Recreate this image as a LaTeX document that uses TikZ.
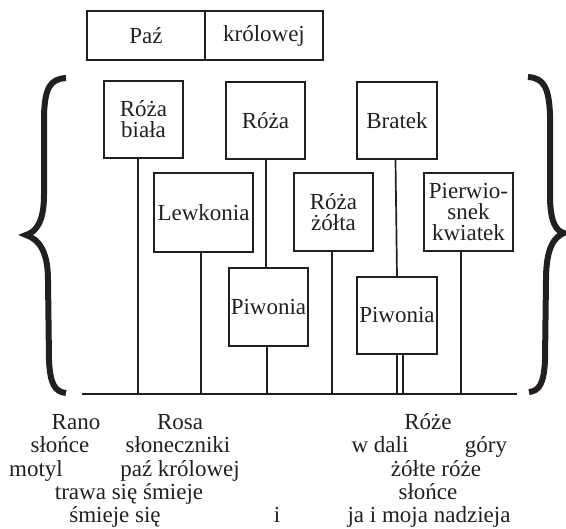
\documentclass[tikz,border=0pt]{standalone}
\usepackage{fontspec}
\setmainfont{Liberation Serif}
\definecolor{ink}{RGB}{35,31,32}
\begin{document}
\begin{tikzpicture}[x=1pt,y=-1pt,
  box/.style={draw=ink, line width=1.5pt, inner sep=0pt, align=center, text=ink, font=\fontsize{23}{21}\selectfont},
  conn/.style={draw=ink, line width=1.7pt},
  bracepath/.style={draw=ink, line width=6pt},
  lbl/.style={anchor=base, inner sep=0pt, text=ink, font=\fontsize{23}{23}\selectfont}]
\useasboundingbox (0,0) rectangle (566,529);
% top box
\node[box, minimum width=118pt, minimum height=49pt] (paz) at (146,35.5) {Paź};
\node[box, minimum width=118pt, minimum height=49pt] (krol) at (264,35.5) {królowej};
% flower boxes
\node[box, minimum width=79pt, minimum height=77pt] (rb) at (143.5,119.5) {Róża\\biała};
\node[box, minimum width=79pt, minimum height=77pt] (ro) at (265.5,120.5) {Róża};
\node[box, minimum width=80pt, minimum height=77pt] (bt) at (397,120.5) {Bratek};
\node[box, minimum width=99pt, minimum height=79pt] (lw) at (203.5,212.5) {Lewkonia};
\node[box, minimum width=79pt, minimum height=78pt] (rz) at (333.5,212) {Róża\\żółta};
\node[box, minimum width=89pt, minimum height=78pt, font=\fontsize{23}{21}\selectfont] (pk) at (468.5,212) {Pierwio-\\snek\\kwiatek};
\node[box, minimum width=79pt, minimum height=78pt] (p1) at (268.5,307) {Piwonia};
\node[box, minimum width=80pt, minimum height=77pt] (p2) at (397,315.5) {Piwonia};
% base line
\coordinate (bl) at (82,394);
\coordinate (bre) at (517,394);
\draw[conn] (bl) -- (bre);
% connectors
\path ([xshift=-5.5pt]rb.south) coordinate (c1);
\draw[conn] (c1) -- (c1 |- bl);
\path ([xshift=-2.5pt]lw.south) coordinate (c2);
\draw[conn] (c2) -- (c2 |- bl);
\draw[conn] ([xshift=0.5pt]ro.south) -- ([xshift=-2.5pt]p1.north);
\path ([xshift=-1.5pt]p1.south) coordinate (c3);
\draw[conn] (c3) -- (c3 |- bl);
\path ([xshift=-1.5pt]rz.south) coordinate (c4);
\draw[conn] (c4) -- (c4 |- bl);
\draw[conn] ([xshift=-1.5pt]bt.south) -- ([xshift=0pt]p2.north);
\path ([xshift=0pt]p2.south) coordinate (c5);
\draw[conn] (c5) -- (c5 |- bl);
\path ([xshift=6pt]p2.south) coordinate (c6);
\draw[conn] (c6) -- (c6 |- bl);
\path ([xshift=-7.5pt]pk.south) coordinate (c7);
\draw[conn] (c7) -- (c7 |- bl);
% braces
\draw[bracepath] (66,78) .. controls (50,79) and (45,88) .. (44,115) -- (44,195) .. controls (44,222) and (36,232) .. (26,235) .. controls (38,239) and (48,250) .. (48,280) -- (49,360) .. controls (50,384) and (55,392) .. (66,393);
\draw[bracepath] (528,77) .. controls (544,78) and (549,88) .. (550,115) -- (550,195) .. controls (550,222) and (556,231) .. (564,233) .. controls (554,237) and (546,248) .. (546,280) -- (545,360) .. controls (544,384) and (539,391) .. (529,392);
% poem text
\node[lbl] (t11) at (76,430) {Rano};
\node[lbl] (t12) at (180,430) {Rosa};
\node[lbl] (t13) at (428,430) {Róże};
\node[lbl] (t21) at (60,453) {słońce};
\node[lbl] (t22) at (178,453) {słoneczniki};
\node[lbl] (t23) at (380,453) {w dali};
\node[lbl] (t24) at (486,453) {góry};
\node[lbl] (t31) at (36,477) {motyl};
\node[lbl] (t32) at (180,477) {paź królowej};
\node[lbl] (t33) at (436,477) {żółte róże};
\node[lbl] (t41) at (129,500) {trawa się śmieje};
\node[lbl] (t42) at (428,500) {słońce};
\node[lbl] (t51) at (115,523) {śmieje się};
\node[lbl] (t52) at (277,523) {i};
\node[lbl] (t53) at (429,523) {ja i moja nadzieja};
\end{tikzpicture}
\end{document}
